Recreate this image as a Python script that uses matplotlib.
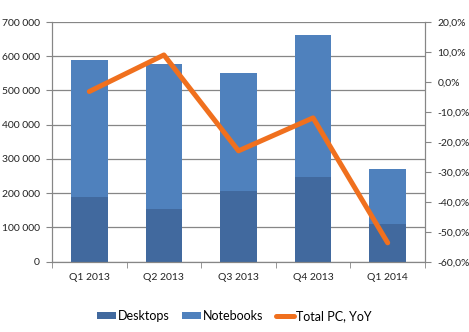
import matplotlib
matplotlib.use("Agg")
import matplotlib.pyplot as plt
from matplotlib.ticker import FuncFormatter
import numpy as np

quarters = ["Q1 2013", "Q2 2013", "Q3 2013", "Q4 2013", "Q1 2014"]
desktops = [189000, 153000, 206000, 248000, 110000]
notebooks = [401000, 423000, 346000, 413000, 160000]
total_yoy = [-3.2, 9.0, -23.0, -12.0, -53.7]

plt.rcParams['font.family'] = ['Lato', 'DejaVu Sans']
grey = "#868686"
txt = "#222222"

fig = plt.figure(figsize=(4.69, 3.32), dpi=100)
ax1 = fig.add_axes([52/469, 70.3/332, 373/469, 239.7/332])
x = np.arange(len(quarters))

ax1.bar(x, desktops, width=0.49, color="#41699e", label="Desktops", zorder=2)
ax1.bar(x, notebooks, width=0.49, bottom=desktops, color="#4f81bd", label="Notebooks", zorder=2)
ax1.set_ylim(0, 700000)
ax1.set_xlim(-0.5, len(quarters) - 0.5)
ax1.set_yticks(np.arange(0, 700001, 100000))
ax1.yaxis.set_major_formatter(FuncFormatter(lambda v, p: f"{int(v):,}".replace(",", " ")))
ax1.yaxis.grid(True, color=grey, lw=0.9, zorder=0)
ax1.set_axisbelow(True)
ax1.set_xticks(x)
ax1.set_xticklabels(quarters)
ax1.set_xticks(np.arange(-0.5, len(quarters)), minor=True)
ax1.tick_params(axis="x", which="major", length=0, labelsize=7.5, pad=8, labelcolor=txt)
ax1.tick_params(axis="x", which="minor", length=4, color=grey)
ax1.tick_params(axis="y", length=4, color=grey, labelsize=7.5, pad=5, labelcolor=txt)
ax1.spines["top"].set_visible(False)
for s in ["left", "bottom", "right"]:
    ax1.spines[s].set_color(grey)

ax2 = ax1.twinx()
ax2.plot(x, total_yoy, color="#f0701e", lw=3.6, label="Total PC, YoY", zorder=3,
         solid_capstyle="round")
ax2.set_ylim(-60, 20)
ax2.set_yticks(np.arange(-60, 21, 10))
ax2.yaxis.set_major_formatter(FuncFormatter(lambda v, p: f"{v:.1f}%".replace(".", ",")))
ax2.tick_params(axis="y", length=4, color=grey, labelsize=7.5, pad=5, labelcolor=txt)
ax2.spines["top"].set_visible(False)
for s in ["left", "bottom", "right"]:
    ax2.spines[s].set_color(grey)

h1, l1 = ax1.get_legend_handles_labels()
h2, l2 = ax2.get_legend_handles_labels()
fig.legend(h1 + h2, l1 + l2, loc="center", bbox_to_anchor=(0.5, 16/332), ncol=3,
           frameon=False, fontsize=9, handlelength=1.5, handleheight=0.45,
           columnspacing=1.0, handletextpad=0.15)

fig.savefig("out.png", dpi=100)
